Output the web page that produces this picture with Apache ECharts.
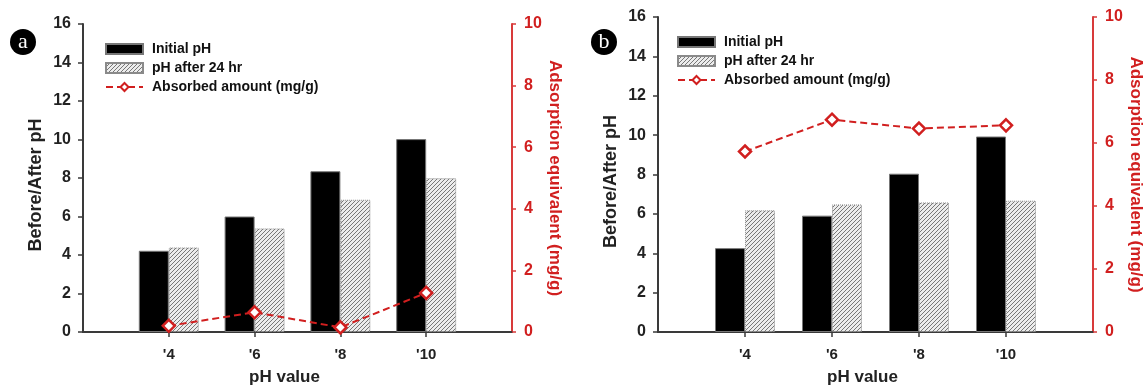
<!DOCTYPE html>
<html>
<head>
<meta charset="utf-8">
<script src="https://cdn.jsdelivr.net/npm/echarts@6/dist/echarts.min.js"></script>
<style>
html,body{margin:0;padding:0;background:#fff;}
#chart{width:1145px;height:385px;}
</style>
</head>
<body>
<div id="chart"></div>
<script>
// pH levels tested (x positions) and their tick labels
var phLevels = [4, 6, 8, 10];
var xTickLabels = ["'4", "'6", "'8", "'10"];

// panel a
var initialA = [4.22, 6.0, 8.35, 10.02];
var afterA = [4.39, 5.38, 6.87, 7.99];
var adsorbA = [0.20, 0.64, 0.15, 1.27];

// panel b
var initialB = [4.26, 5.91, 8.04, 9.93];
var afterB = [6.18, 6.48, 6.58, 6.67];
var adsorbB = [5.73, 6.74, 6.46, 6.56];

var RED = '#d11f1f';
var AXIS = '#3a3a3a';
var FONT = 'Liberation Sans';

function pairs(vals){
	return phLevels.map(function(x, i){ return [x, vals[i]]; });
}

function hatch(){
	var c = document.createElement('canvas');
	c.width = 4; c.height = 4;
	var g = c.getContext('2d');
	g.fillStyle = '#ececec';
	g.fillRect(0, 0, 4, 4);
	g.strokeStyle = '#777';
	g.lineWidth = 1;
	g.beginPath();
	g.moveTo(0, 4); g.lineTo(4, 0);
	g.moveTo(-1, 1); g.lineTo(1, -1);
	g.moveTo(3, 5); g.lineTo(5, 3);
	g.stroke();
	return c;
}
var hatchFill = {image: hatch(), repeat: 'repeat'};

function xAxisPair(gi){
	return [{
		type: 'value', gridIndex: gi, position: 'bottom', min: 2, max: 12,
		splitLine: {show: false},
		axisLine: {lineStyle: {color: AXIS, width: 2}},
		axisTick: {customValues: phLevels, length: 5, lineStyle: {color: AXIS, width: 1.5}},
		axisLabel: {
			customValues: phLevels, margin: 15,
			formatter: function(v){ return xTickLabels[phLevels.indexOf(v)]; },
			fontFamily: FONT, fontWeight: 'bold', fontSize: 15, color: '#222'
		},
		name: 'pH value', nameLocation: 'middle', nameGap: 37,
		nameTextStyle: {fontFamily: FONT, fontWeight: 'bold', fontSize: 17, color: '#222', padding: [0, 26, 0, 0]}
	}, {
		type: 'value', gridIndex: gi, position: 'top', min: 2, max: 12,
		splitLine: {show: false},
		axisLine: {lineStyle: {color: AXIS, width: 2}},
		axisTick: {show: false}, axisLabel: {show: false}
	}];
}

function yAxisPair(gi){
	return [{
		type: 'value', gridIndex: gi, position: 'left', min: 0, max: 16, interval: 2,
		splitLine: {show: false},
		axisLine: {show: true, lineStyle: {color: AXIS, width: 2}},
		axisTick: {show: true, length: 5, lineStyle: {color: AXIS, width: 1.5}},
		axisLabel: {margin: 12, fontFamily: FONT, fontWeight: 'bold', fontSize: 16, color: '#222'},
		name: 'Before/After pH', nameLocation: 'middle', nameGap: 38,
		nameTextStyle: {fontFamily: FONT, fontWeight: 'bold', fontSize: 18, color: '#222', padding: [0, 14, 0, 0]}
	}, {
		type: 'value', gridIndex: gi, position: 'right', min: 0, max: 10, interval: 2,
		splitLine: {show: false},
		axisLine: {show: true, lineStyle: {color: '#d83a3a', width: 2}},
		axisTick: {show: true, length: 4, lineStyle: {color: '#d83a3a', width: 1.5}},
		axisLabel: {margin: 12, fontFamily: FONT, fontWeight: 'bold', fontSize: 16, color: RED},
		name: 'Adsorption equivalent (mg/g)', nameLocation: 'middle', nameGap: 34, nameRotate: -90,
		nameTextStyle: {fontFamily: FONT, fontWeight: 'bold', fontSize: 17, color: RED}
	}];
}

function panelSeries(xi, yi, initial, after, adsorb){
	return [{
		name: 'Initial pH', type: 'bar', xAxisIndex: xi, yAxisIndex: yi,
		barWidth: 30, barGap: '0%',
		itemStyle: {color: '#000', borderColor: '#777', borderWidth: 1},
		data: pairs(initial)
	}, {
		name: 'pH after 24 hr', type: 'bar', xAxisIndex: xi, yAxisIndex: yi,
		barWidth: 30, barGap: '0%',
		itemStyle: {color: hatchFill, borderColor: '#8a8a8a', borderWidth: 1, borderType: 'dotted'},
		data: pairs(after)
	}, {
		name: 'Absorbed amount (mg/g)', type: 'line', xAxisIndex: xi, yAxisIndex: yi + 1,
		symbol: 'diamond', symbolSize: 12, z: 5,
		lineStyle: {color: RED, width: 2, type: [7, 4]},
		itemStyle: {color: '#fff', borderColor: RED, borderWidth: 2.5},
		data: pairs(adsorb)
	}];
}

function legendAt(left, top){
	return {
		left: left, top: top, orient: 'vertical',
		itemWidth: 37, itemHeight: 10, itemGap: 5,
		selectedMode: false,
		textStyle: {fontFamily: FONT, fontWeight: 'bold', fontSize: 14, color: '#111', padding: [0, 0, 0, 4]},
		data: [
			{name: 'Initial pH', icon: 'rect'},
			{name: 'pH after 24 hr', icon: 'rect'},
			{name: 'Absorbed amount (mg/g)'}
		]
	};
}

function badge(cx, cy, letter){
	return [{
		type: 'circle', shape: {cx: cx, cy: cy, r: 13}, style: {fill: '#000'}
	}, {
		type: 'text', x: cx, y: cy,
		style: {text: letter, fill: '#fff', font: '22px "Liberation Serif"', align: 'center', verticalAlign: 'middle'}
	}];
}

var myChart = echarts.init(document.getElementById('chart'), null, {renderer: 'canvas'});
var option = {
	animation: false,
	backgroundColor: '#fff',
	grid: [
		{left: 83, top: 24, width: 429, height: 308, outerBoundsMode: 'none', containLabel: false},
		{left: 658, top: 17, width: 435, height: 315, outerBoundsMode: 'none', containLabel: false}
	],
	xAxis: xAxisPair(0).concat(xAxisPair(1)),
	yAxis: yAxisPair(0).concat(yAxisPair(1)),
	legend: [legendAt(100, 37), legendAt(672, 30)],
	graphic: badge(23, 42, 'a').concat(badge(604, 42, 'b')),
	series: panelSeries(0, 0, initialA, afterA, adsorbA).concat(panelSeries(2, 2, initialB, afterB, adsorbB))
};
myChart.setOption(option);
</script>
</body>
</html>
